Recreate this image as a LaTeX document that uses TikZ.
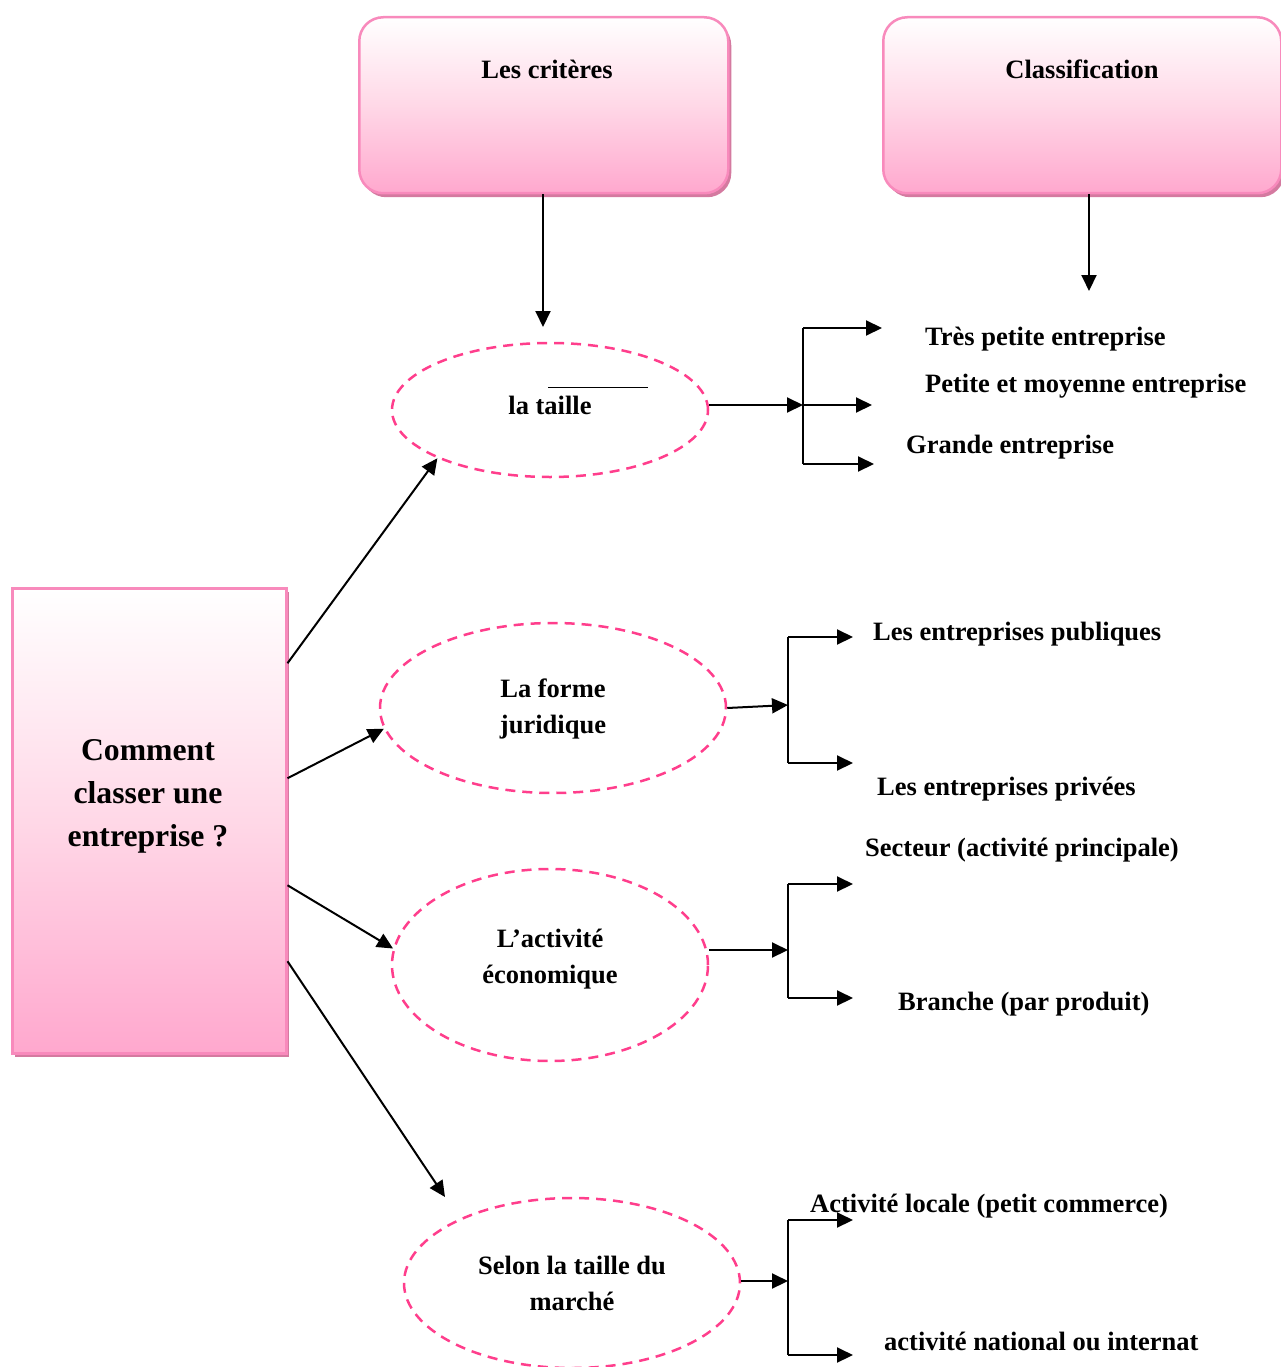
\documentclass[tikz,border=0pt]{standalone}
\usepackage{fontspec}
\setmainfont{Liberation Serif}
\usetikzlibrary{arrows.meta,shapes.geometric,shadows}
\definecolor{pinkedge}{RGB}{248,138,188}
\definecolor{pinkbot}{RGB}{255,168,206}
\definecolor{pinkmid}{RGB}{255,216,231}
\definecolor{pinkshadow}{RGB}{212,122,160}
\definecolor{dashpink}{RGB}{255,62,140}
\begin{document}
\begin{tikzpicture}[x=1pt,y=-1pt,
  pinkbox/.style={draw=pinkedge, line width=2.5pt, top color=white, bottom color=pinkbot, middle color=pinkmid,
    anchor=north west, inner sep=0pt,
    drop shadow={shadow xshift=3pt, shadow yshift=-4pt, fill=pinkshadow, opacity=1}},
  headbox/.style={pinkbox, rounded corners=24pt, minimum width=369pt, minimum height=176pt},
  critere/.style={ellipse, draw=dashpink, line width=2.5pt, dash pattern=on 10pt off 7pt, inner sep=0pt},
  txt/.style={font=\fontsize{26.5pt}{36pt}\selectfont\bfseries, inner sep=0pt, align=center},
  lbl/.style={font=\fontsize{26.5pt}{36pt}\selectfont\bfseries, inner sep=0pt, anchor=base west},
  ln/.style={line width=2pt},
  arr/.style={line width=2pt, -{Triangle[length=16pt,width=15pt]}}]
\useasboundingbox (0,0) rectangle (1281,1367);

% header boxes
\node[headbox] (crit) at (358,16) {};
\node[txt, anchor=base] (critT) at (547,79) {Les critères};
\node[headbox, minimum width=398pt] (classif) at (882,16) {};
\node[txt, anchor=base] (classifT) at (1082,79) {Classification};

% question box
\node[pinkbox, minimum width=274pt, minimum height=465pt] (q) at (11,587) {};
\node[font=\fontsize{31.7pt}{43pt}\selectfont\bfseries, inner sep=0pt, align=center] (qT) at (148,796)
  {Comment\\classer une\\entreprise ?};

% criteria ellipses
\node[critere, minimum width=316pt, minimum height=134pt] (taille) at (550,410) {};
\node[txt, anchor=base] (tailleT) at (550,414) {la taille};
\coordinate (ovA) at (548,387);
\coordinate (ovB) at (648,387);
\draw[line width=1pt] (ovA) -- (ovB);

\node[critere, minimum width=346pt, minimum height=170pt] (forme) at (553,708) {};
\node[txt] (formeT) at (553,709) {La forme\\juridique};

\node[critere, minimum width=316pt, minimum height=192pt] (eco) at (550,965) {};
\node[txt] (ecoT) at (550,959) {L’activité\\économique};

\node[critere, minimum width=336pt, minimum height=170pt] (marche) at (572,1283) {};
\node[txt] (marcheT) at (572,1283) {Selon la taille du\\marché};

% arrows from headers
\coordinate (critEnd) at (543,327);
\draw[arr] (crit.south -| critEnd) -- (critEnd);
\coordinate (classEnd) at (1089,291);
\draw[arr] (classif.south -| classEnd) -- (classEnd);

% arrows from question box
\draw[arr] ([yshift=157.5pt]q.east) -- (taille.south west);
\draw[arr] ([yshift=42.5pt]q.east) -- (forme.187);
\draw[arr] ([yshift=-64.5pt]q.east) -- (eco.174);
\coordinate (m4) at (445,1197);
\draw[arr] ([yshift=-140.5pt]q.east) -- (m4);

% branch 1 : la taille
\coordinate (j1a) at (803,328);
\coordinate (j1b) at (803,405);
\coordinate (j1c) at (803,464);
\coordinate (e1a) at (882,328);
\coordinate (e1b) at (872,405);
\coordinate (e1c) at (874,464);
\draw[ln] (j1a) -- (j1c);
\draw[arr] (taille.east |- j1b) -- (j1b);
\draw[arr] (j1a) -- (e1a);
\draw[arr] (j1b) -- (e1b);
\draw[arr] (j1c) -- (e1c);
\node[lbl] (l1a) at (925,345) {Très petite entreprise};
\node[lbl] (l1b) at (925,392) {Petite et moyenne entreprise};
\node[lbl] (l1c) at (906,453) {Grande entreprise};

% branch 2 : forme juridique
\coordinate (j2a) at (788,637);
\coordinate (j2b) at (788,705);
\coordinate (j2c) at (788,763);
\coordinate (e2a) at (853,637);
\coordinate (e2c) at (853,763);
\draw[ln] (j2a) -- (j2c);
\draw[arr] (forme.east) -- (j2b);
\draw[arr] (j2a) -- (e2a);
\draw[arr] (j2c) -- (e2c);
\node[lbl] (l2a) at (873,640) {Les entreprises publiques};
\node[lbl] (l2c) at (877,795) {Les entreprises privées};

% branch 3 : activité économique
\coordinate (j3a) at (788,884);
\coordinate (j3b) at (788,950);
\coordinate (j3c) at (788,998);
\coordinate (e3a) at (853,884);
\coordinate (e3c) at (853,998);
\draw[ln] (j3a) -- (j3c);
\draw[arr] (eco.east |- j3b) -- (j3b);
\draw[arr] (j3a) -- (e3a);
\draw[arr] (j3c) -- (e3c);
\node[lbl] (l3a) at (865,856) {Secteur (activité principale)};
\node[lbl] (l3c) at (898,1010) {Branche (par produit)};

% branch 4 : taille du marché
\coordinate (j4a) at (788,1220);
\coordinate (j4b) at (788,1281);
\coordinate (j4c) at (788,1355);
\coordinate (e4a) at (853,1220);
\coordinate (e4c) at (853,1355);
\draw[ln] (j4a) -- (j4c);
\draw[arr] (marche.east |- j4b) -- (j4b);
\draw[arr] (j4a) -- (e4a);
\draw[arr] (j4c) -- (e4c);
\node[lbl] (l4a) at (810,1212) {Activité locale (petit commerce)};
\node[lbl] (l4c) at (884,1350) {activité national ou internat};
\end{tikzpicture}
\end{document}
